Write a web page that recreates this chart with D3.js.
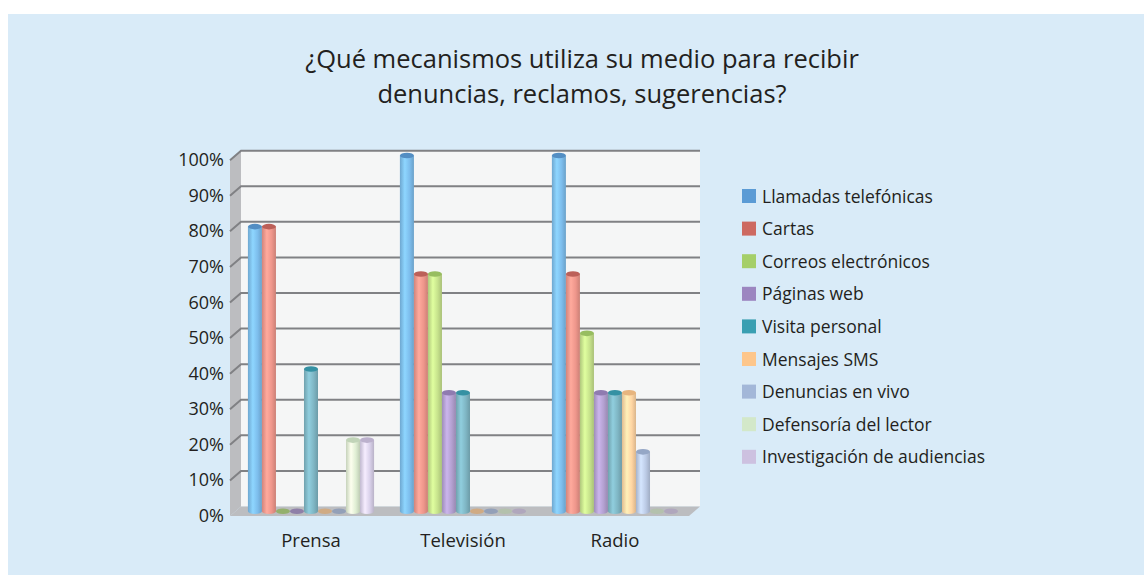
<!DOCTYPE html>
<html>
<head>
<meta charset="utf-8">
<script src="https://cdn.jsdelivr.net/npm/d3@7"></script>
<style>
  body { margin: 0; background: #ffffff; }
  svg { display: block; }
  text { font-family: "Open Sans", "Noto Sans", sans-serif; fill: #231f20; }
</style>
</head>
<body>
<div id="chart"></div>
<script>
// data
const groups = ['Prensa', 'Televisión', 'Radio']
const series = ['Llamadas telefónicas', 'Cartas', 'Correos electrónicos', 'Páginas web',
  'Visita personal', 'Mensajes SMS', 'Denuncias en vivo', 'Defensoría del lector',
  'Investigación de audiencias']
const prensa = [80, 80, 0, 0, 40, 0, 0, 20, 20]
const television = [100, 66.7, 66.7, 33.3, 33.3, 0, 0, 0, 0]
const radio = [100, 66.7, 50, 33.3, 33.3, 33.3, 16.7, 0, 0]
const yTicks = [0, 10, 20, 30, 40, 50, 60, 70, 80, 90, 100]
const titleLines = ['¿Qué mecanismos utiliza su medio para recibir', 'denuncias, reclamos, sugerencias?']

// legend colour and the lighter colour used on the cylinders
const legendColors = ['#5b9bd5', '#cd6961', '#a5cf69', '#9c86c0', '#3a9fb2', '#fdc68b', '#a3b7d8', '#d3e8c9', '#cdc1e0']
const barColors = ['#7dbdec', '#ee968b', '#c6e28c', '#b3a0d0', '#7fb6c4', '#ffd5a3', '#bccbe6', '#dfeed3', '#d9d1ea']

const values = [prensa, television, radio]

const W = 1144, H = 575
const svg = d3.select('#chart').append('svg').attr('width', W).attr('height', H)

// panel
svg.append('rect').attr('x', 8).attr('y', 14).attr('width', W - 8).attr('height', H - 14).attr('fill', '#d9ebf8')

// title
svg.append('g').selectAll('text')
  .data(titleLines)
  .enter().append('text')
  .attr('x', 582)
  .attr('y', (d, i) => 68 + i * 35)
  .attr('text-anchor', 'middle')
  .style('font-size', '25.5px')
  .text(d => d)

// geometry of the 3d box
const boxLeft = 241, boxRight = 700, boxTop = 150.7, boxFloor = 506.5
const dx = -11, dy = 9.5 // depth offset back -> front

const y = d3.scaleLinear().domain([0, 100]).range([boxFloor, boxTop])
const x0 = d3.scaleBand().domain(groups).range([boxLeft, boxRight])
  .paddingInner(0.17).paddingOuter(0.095).align(0.43)
const x1 = d3.scaleBand().domain(series).range([0, x0.bandwidth()])

const defs = svg.append('defs')
series.forEach((s, i) => {
  const c = d3.color(barColors[i])
  const g = defs.append('linearGradient').attr('id', 'grad' + i).attr('x1', 0).attr('x2', 1).attr('y1', 0).attr('y2', 0)
  g.append('stop').attr('offset', '0%').attr('stop-color', c.darker(0.35))
  g.append('stop').attr('offset', '35%').attr('stop-color', c.brighter(0.35))
  g.append('stop').attr('offset', '70%').attr('stop-color', c)
  g.append('stop').attr('offset', '100%').attr('stop-color', c.darker(0.45))
})

// side wall
svg.append('polygon')
  .attr('points', [[boxLeft, boxTop], [boxLeft + dx, boxTop + dy], [boxLeft + dx, boxFloor + dy], [boxLeft, boxFloor]].join(' '))
  .attr('fill', '#bcbdc0')
// back wall
svg.append('rect').attr('x', boxLeft).attr('y', boxTop).attr('width', boxRight - boxLeft).attr('height', boxFloor - boxTop).attr('fill', '#f5f6f6')
// floor
svg.append('polygon')
  .attr('points', [[boxLeft, boxFloor], [boxRight, boxFloor], [boxRight + dx, boxFloor + dy], [boxLeft + dx, boxFloor + dy]].join(' '))
  .attr('fill', '#bcbdc0')

// grid lines on back wall and side wall
const grid = svg.append('g')
grid.selectAll('.gl')
  .data(yTicks.filter(d => d > 0))
  .enter().append('path')
  .attr('d', d => `M${boxLeft + dx},${y(d) + dy}L${boxLeft},${y(d)}L${boxRight},${y(d)}`)
  .attr('fill', 'none')
  .attr('stroke', '#808184')
  .attr('stroke-width', 2)

// y labels
svg.append('g').selectAll('text')
  .data(yTicks)
  .enter().append('text')
  .attr('x', 224)
  .attr('y', d => y(d) + dy + 6)
  .attr('text-anchor', 'end')
  .style('font-size', '18px')
  .text(d => d + '%')

// bars as cylinders, sitting in the middle of the depth
const mx = dx / 2, my = dy / 2
const ry = 2.8
const bars = svg.append('g')
groups.forEach((grp, gi) => {
  const gEl = bars.append('g').attr('transform', `translate(${x0(grp) + mx},${my})`)
  values[gi].forEach((v, si) => {
    const bx = x1(series[si]), bw = x1.bandwidth()
    const cx = bx + bw / 2
    if (v === 0) {
      gEl.append('ellipse')
        .attr('cx', cx).attr('cy', y(0)).attr('rx', bw / 2).attr('ry', ry)
        .attr('fill', d3.color(legendColors[si]).darker(0.5))
        .attr('opacity', 0.8)
      return
    }
    gEl.append('ellipse')
      .attr('cx', cx).attr('cy', y(0)).attr('rx', bw / 2).attr('ry', ry)
      .attr('fill', 'url(#grad' + si + ')')
    gEl.append('rect')
      .attr('x', bx).attr('y', y(v)).attr('width', bw).attr('height', y(0) - y(v))
      .attr('fill', 'url(#grad' + si + ')')
    gEl.append('ellipse')
      .attr('cx', cx).attr('cy', y(v)).attr('rx', bw / 2).attr('ry', ry)
      .attr('fill', d3.color(legendColors[si]).darker(0.25))
  })
})

// x labels
svg.append('g').selectAll('text')
  .data(groups)
  .enter().append('text')
  .attr('x', d => x0(d) + x0.bandwidth() / 2 + mx)
  .attr('y', 547)
  .attr('text-anchor', 'middle')
  .style('font-size', '18.5px')
  .text(d => d)

// legend
const legend = svg.append('g').attr('transform', 'translate(742,189)')
const rows = legend.selectAll('g')
  .data(series)
  .enter().append('g')
  .attr('transform', (d, i) => `translate(0,${i * 32.6})`)
rows.append('rect').attr('width', 14).attr('height', 14).attr('fill', (d, i) => legendColors[i])
rows.append('text').attr('x', 20).attr('y', 13.5).style('font-size', '17.5px').text(d => d)
</script>
</body>
</html>
